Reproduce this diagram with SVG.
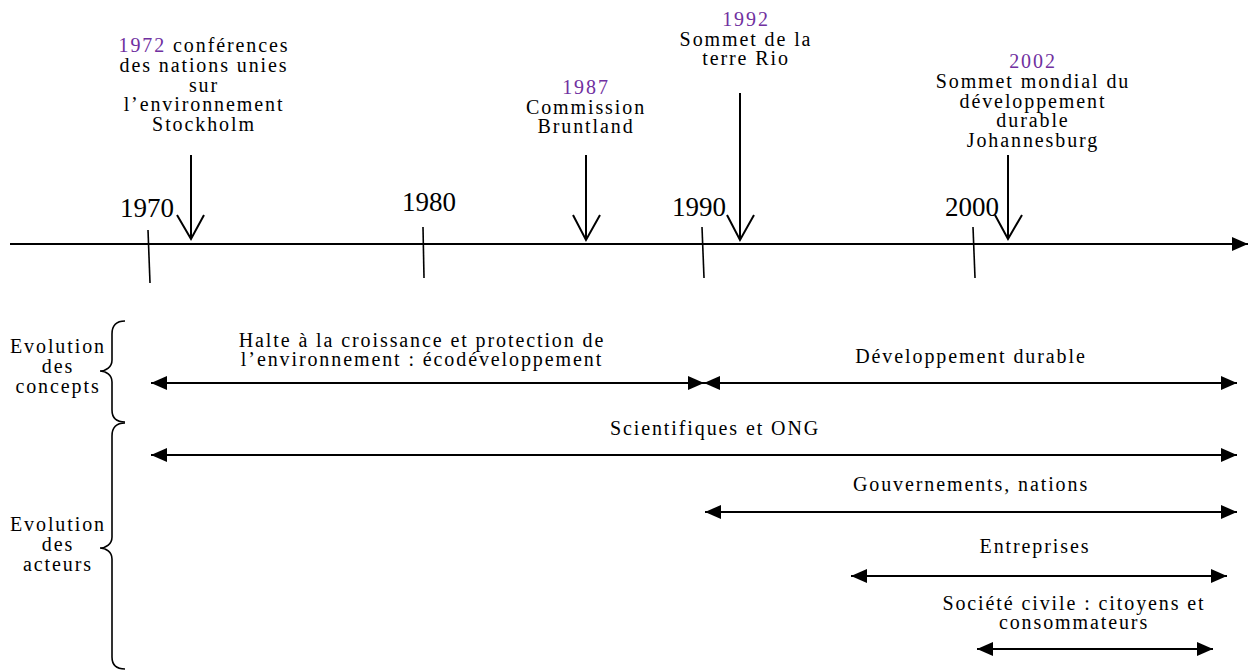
<svg xmlns="http://www.w3.org/2000/svg" width="1252" height="670" viewBox="0 0 1252 670">
<style>
text{font-family:"Liberation Serif","Times New Roman",serif;fill:#000;}
.lbl{font-size:20px;letter-spacing:1.9px;text-anchor:middle;}
.yr{font-size:27px;}
.pur{fill:#7030A0;}
.ln{stroke:#000;stroke-width:2;fill:none;}
.tk{stroke:#000;stroke-width:1.6;fill:none;}
.br{stroke:#000;stroke-width:1.6;fill:none;}
</style>
<defs>
<marker id="ah" viewBox="0 0 16 14" refX="16" refY="7" markerWidth="16" markerHeight="14" markerUnits="userSpaceOnUse" orient="auto-start-reverse">
<path d="M0,0 L16,7 L0,14 Z" fill="#000"/>
</marker>
</defs>
<g id="axis">
<line class="ln" x1="10" y1="244" x2="1248" y2="244" marker-end="url(#ah)"/>
<line class="tk" x1="148" y1="230" x2="150" y2="283"/>
<line class="tk" x1="423" y1="227" x2="424" y2="278"/>
<line class="tk" x1="702" y1="227" x2="704" y2="278"/>
<line class="tk" x1="973" y1="227" x2="975" y2="278"/>
<text class="yr" x="120" y="217">1970</text>
<text class="yr" x="402" y="211">1980</text>
<text class="yr" x="672" y="216">1990</text>
<text class="yr" x="945" y="216">2000</text>
</g>
<g id="event-1972">
<text class="lbl" x="204" y="52"><tspan class="pur">1972</tspan> conférences</text>
<text class="lbl" x="204" y="72">des nations unies</text>
<text class="lbl" x="204" y="92">sur</text>
<text class="lbl" x="204" y="111">l’environnement</text>
<text class="lbl" x="204" y="131">Stockholm</text>
<path class="ln" d="M191,155 L191,239 M177,215 L191,239 L204,215"/>
</g>
<g id="event-1987">
<text class="lbl pur" x="586" y="94">1987</text>
<text class="lbl" x="586" y="114">Commission</text>
<text class="lbl" x="586" y="133">Bruntland</text>
<path class="ln" d="M586,155 L586,240 M573,215 L586,240 L600,215"/>
</g>
<g id="event-1992">
<text class="lbl pur" x="746" y="26">1992</text>
<text class="lbl" x="746" y="46">Sommet de la</text>
<text class="lbl" x="746" y="65">terre Rio</text>
<path class="ln" d="M740,93 L740,240 M727,215 L740,240 L754,215"/>
</g>
<g id="event-2002">
<text class="lbl pur" x="1033" y="68">2002</text>
<text class="lbl" x="1033" y="88">Sommet mondial du</text>
<text class="lbl" x="1033" y="108">développement</text>
<text class="lbl" x="1033" y="127">durable</text>
<text class="lbl" x="1033" y="147">Johannesburg</text>
<path class="ln" d="M1008,155 L1008,239 M995,215 L1008,239 L1022,215"/>
</g>
<g id="group-concepts">
<path class="br" d="M125,321 C116,321 112,325 112,334 L112,360 C112,367 106,371 100,371 C106,371 112,375 112,382 L112,410 C112,418 116,422 125,422"/>
<text class="lbl" x="58" y="353">Evolution</text>
<text class="lbl" x="58" y="373">des</text>
<text class="lbl" x="58" y="393">concepts</text>
</g>
<g id="group-acteurs">
<path class="br" d="M125,423 C116,423 112,427 112,436 L112,537 C112,544 106,548 100,548 C106,548 112,552 112,559 L112,657 C112,665 116,669 125,669"/>
<text class="lbl" x="58" y="531">Evolution</text>
<text class="lbl" x="58" y="551">des</text>
<text class="lbl" x="58" y="571">acteurs</text>
</g>
<g id="label-halte">
<text class="lbl" x="422" y="347">Halte à la croissance et protection de</text>
<text class="lbl" x="422" y="366">l’environnement : écodéveloppement</text>
</g>
<g id="label-dd">
<text class="lbl" x="971" y="363">Développement durable</text>
</g>
<g id="label-sci">
<text class="lbl" x="715" y="435">Scientifiques et ONG</text>
</g>
<g id="label-gouv">
<text class="lbl" x="971" y="491">Gouvernements, nations</text>
</g>
<g id="label-entr">
<text class="lbl" x="1035" y="553">Entreprises</text>
</g>
<g id="label-soc">
<text class="lbl" x="1074" y="610">Société civile : citoyens et</text>
<text class="lbl" x="1074" y="629">consommateurs</text>
</g>
<g id="connectors">
<line class="ln" x1="151" y1="383" x2="704" y2="383" marker-start="url(#ah)" marker-end="url(#ah)"/>
<line class="ln" x1="704" y1="383" x2="1237" y2="383" marker-start="url(#ah)" marker-end="url(#ah)"/>
<line class="ln" x1="151" y1="455" x2="1237" y2="455" marker-start="url(#ah)" marker-end="url(#ah)"/>
<line class="ln" x1="705" y1="512" x2="1237" y2="512" marker-start="url(#ah)" marker-end="url(#ah)"/>
<line class="ln" x1="851" y1="576" x2="1227" y2="576" marker-start="url(#ah)" marker-end="url(#ah)"/>
<line class="ln" x1="977" y1="649" x2="1213" y2="649" marker-start="url(#ah)" marker-end="url(#ah)"/>
</g>
</svg>
